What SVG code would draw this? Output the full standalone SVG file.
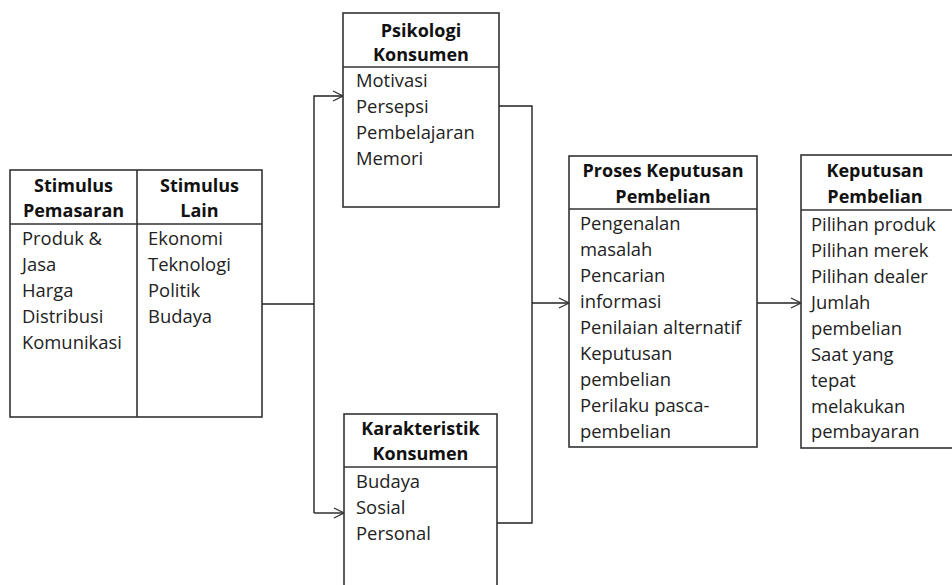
<svg xmlns="http://www.w3.org/2000/svg" width="952" height="585" viewBox="0 0 952 585">
<defs>
<style>
.box{fill:#fff;stroke:#333;stroke-width:1.6}
.ln{fill:none;stroke:#333;stroke-width:1.6}
.h{font-family:"Open Sans","Liberation Sans",sans-serif;font-size:18px;font-weight:bold;fill:#111;text-anchor:middle}
.t{font-family:"Open Sans","Liberation Sans",sans-serif;font-size:18.4px;fill:#222}
.c{fill:none;stroke:#222;stroke-width:1.4}
</style>
<marker id="arr" viewBox="0 0 12 12" refX="11" refY="6" markerWidth="12" markerHeight="12" markerUnits="userSpaceOnUse" orient="auto">
<path d="M1,1 L11,6 L1,11" fill="none" stroke="#333" stroke-width="1.3"/>
</marker>
</defs>
<rect width="952" height="585" fill="#fff"/>

<g id="connectors">
<path class="c" d="M262,304 H314"/>
<path class="c" d="M314,513 V96 H343" marker-end="url(#arr)"/>
<path class="c" d="M314,513 H344" marker-end="url(#arr)"/>
<path class="c" d="M499,106 H532 V523 H497"/>
<path class="c" d="M532,303 H569" marker-end="url(#arr)"/>
<path class="c" d="M757,303 H801" marker-end="url(#arr)"/>
</g>

<g id="stimulus">
<rect class="box" x="10" y="170" width="252" height="247"/>
<path class="ln" d="M137,170 V417 M10,224 H262"/>
<text class="h" x="73.5" y="192">Stimulus</text>
<text class="h" x="73.5" y="217">Pemasaran</text>
<text class="h" x="199.5" y="192">Stimulus</text>
<text class="h" x="199.5" y="217">Lain</text>
<text class="t" x="22" y="245">Produk &amp;</text>
<text class="t" x="22" y="271">Jasa</text>
<text class="t" x="22" y="297">Harga</text>
<text class="t" x="22" y="323">Distribusi</text>
<text class="t" x="22" y="349">Komunikasi</text>
<text class="t" x="148" y="245">Ekonomi</text>
<text class="t" x="148" y="271">Teknologi</text>
<text class="t" x="148" y="297">Politik</text>
<text class="t" x="148" y="323">Budaya</text>
</g>

<g id="psikologi">
<rect class="box" x="343" y="13" width="156" height="194"/>
<path class="ln" d="M343,67 H499"/>
<text class="h" x="421" y="37">Psikologi</text>
<text class="h" x="421" y="61">Konsumen</text>
<text class="t" x="356" y="87">Motivasi</text>
<text class="t" x="356" y="113">Persepsi</text>
<text class="t" x="356" y="139">Pembelajaran</text>
<text class="t" x="356" y="165">Memori</text>
</g>

<g id="karakteristik">
<rect class="box" x="344" y="414" width="153" height="180"/>
<path class="ln" d="M344,467 H497"/>
<text class="h" x="420.5" y="435">Karakteristik</text>
<text class="h" x="420.5" y="460">Konsumen</text>
<text class="t" x="356" y="488">Budaya</text>
<text class="t" x="356" y="514">Sosial</text>
<text class="t" x="356" y="540">Personal</text>
</g>

<g id="proses">
<rect class="box" x="569" y="156" width="188" height="291"/>
<path class="ln" d="M569,209 H757"/>
<text class="h" x="663" y="177">Proses Keputusan</text>
<text class="h" x="663" y="203">Pembelian</text>
<text class="t" x="580" y="230">Pengenalan</text>
<text class="t" x="580" y="256">masalah</text>
<text class="t" x="580" y="282">Pencarian</text>
<text class="t" x="580" y="308">informasi</text>
<text class="t" x="580" y="334">Penilaian alternatif</text>
<text class="t" x="580" y="360">Keputusan</text>
<text class="t" x="580" y="386">pembelian</text>
<text class="t" x="580" y="412">Perilaku pasca-</text>
<text class="t" x="580" y="438">pembelian</text>
</g>

<g id="keputusan">
<rect class="box" x="801" y="155" width="160" height="293"/>
<path class="ln" d="M801,210 H961"/>
<text class="h" x="875" y="177">Keputusan</text>
<text class="h" x="875" y="203">Pembelian</text>
<text class="t" x="811" y="231">Pilihan produk</text>
<text class="t" x="811" y="257">Pilihan merek</text>
<text class="t" x="811" y="283">Pilihan dealer</text>
<text class="t" x="811" y="309">Jumlah</text>
<text class="t" x="811" y="335">pembelian</text>
<text class="t" x="811" y="361">Saat yang</text>
<text class="t" x="811" y="387">tepat</text>
<text class="t" x="811" y="413">melakukan</text>
<text class="t" x="811" y="438">pembayaran</text>
</g>
</svg>
